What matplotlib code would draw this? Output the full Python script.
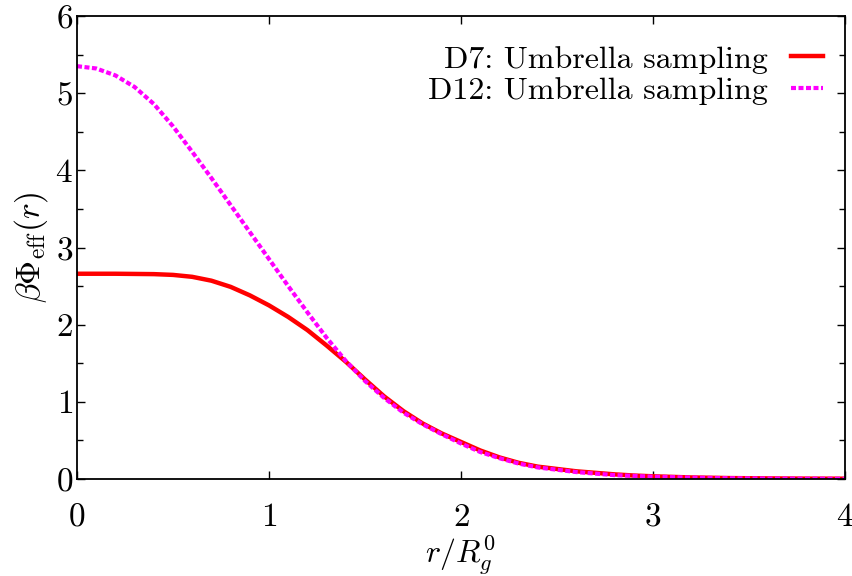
import numpy as np
import matplotlib
matplotlib.use('Agg')
import matplotlib.pyplot as plt
from matplotlib.ticker import MultipleLocator

plt.rcParams['font.family'] = 'serif'
plt.rcParams['font.serif'] = ['cmr10']
plt.rcParams['mathtext.fontset'] = 'cm'
plt.rcParams['axes.formatter.use_mathtext'] = True

# values
r_d7 = [0.0, 0.2, 0.4, 0.5, 0.6, 0.7, 0.8, 0.9, 1.0, 1.1, 1.2, 1.3, 1.4, 1.5,
        1.6, 1.7, 1.8, 1.9, 2.0, 2.1, 2.2, 2.3, 2.4, 2.5, 2.6, 2.7, 2.8, 2.9,
        3.0, 3.2, 3.4, 3.6, 3.8, 4.0]
phi_d7 = [2.66, 2.66, 2.655, 2.645, 2.62, 2.57, 2.49, 2.38, 2.25, 2.10, 1.93,
          1.73, 1.52, 1.29, 1.07, 0.88, 0.72, 0.59, 0.48, 0.37, 0.28, 0.21,
          0.16, 0.13, 0.10, 0.08, 0.06, 0.045, 0.035, 0.02, 0.012, 0.008,
          0.005, 0.004]

r_d12 = [0.0, 0.1, 0.2, 0.3, 0.4, 0.5, 0.6, 0.7, 0.8, 0.9, 1.0, 1.1, 1.2, 1.3,
         1.4, 1.5, 1.6, 1.7, 1.8, 1.9, 2.0, 2.1, 2.2, 2.3, 2.4, 2.5, 2.6, 2.7,
         2.8, 2.9, 3.0, 3.2, 3.4, 3.6, 3.8, 4.0]
phi_d12 = [5.35, 5.32, 5.23, 5.08, 4.86, 4.57, 4.24, 3.90, 3.55, 3.20, 2.85,
           2.50, 2.16, 1.83, 1.53, 1.27, 1.05, 0.86, 0.71, 0.58, 0.46, 0.35,
           0.27, 0.20, 0.15, 0.12, 0.09, 0.07, 0.05, 0.04, 0.03, 0.018, 0.01,
           0.006, 0.004, 0.003]

labels = ['D7: Umbrella sampling', 'D12: Umbrella sampling']

fig = plt.figure(figsize=(8.53, 5.76), dpi=100)
ax = fig.add_axes([0.0903, 0.1684, 0.9003, 0.8038])

ax.plot(r_d7, phi_d7, color='red', lw=3.2, label=labels[0])
ax.plot(r_d12, phi_d12, color='magenta', lw=3, ls=(0, (1.2, 0.6)),
        dash_capstyle='butt', label=labels[1])

ax.set_xlim(0, 4)
ax.set_ylim(0, 6)
ax.xaxis.set_major_locator(MultipleLocator(1))
ax.yaxis.set_major_locator(MultipleLocator(1))
ax.yaxis.set_minor_locator(MultipleLocator(0.5))
ax.tick_params(which='both', direction='in', top=True, right=True,
               labelsize=24)
ax.tick_params(which='major', length=6, width=1)
ax.tick_params(which='minor', length=4, width=1)
ax.tick_params(axis='x', pad=17)
ax.tick_params(axis='y', pad=3)
for s in ax.spines.values():
    s.set_linewidth(1.3)

ax.set_xlabel(r'$r/R_g^0$', fontsize=23)
ax.set_ylabel(r'$\beta\Phi_{\rm eff}(r)$', fontsize=24)
ax.xaxis.set_label_coords(0.499, -0.118)
ax.yaxis.set_label_coords(-0.035, 0.5)

ax.legend(loc='upper right', frameon=False, markerfirst=False, fontsize=23,
          handlelength=1.0, handletextpad=0.7, labelspacing=0.1,
          borderaxespad=0.3, bbox_to_anchor=(1.0, 0.985))

fig.savefig('out.png', dpi=100)
